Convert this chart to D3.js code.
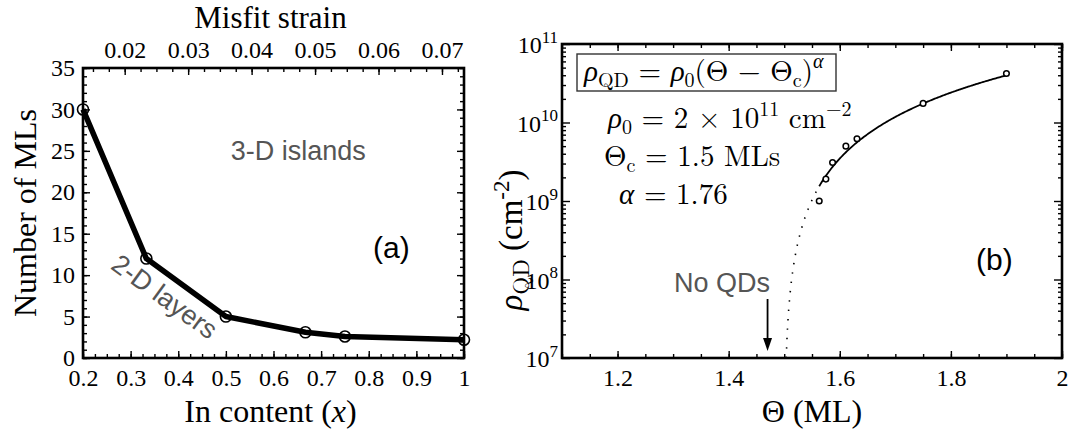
<!DOCTYPE html>
<html>
<head>
<meta charset="utf-8">
<script src="https://cdn.jsdelivr.net/npm/d3@7"></script>
<style>
  body { margin: 0; background: #fff; }
  svg { display: block; }
</style>
</head>
<body>
<svg id="fig" width="1074" height="435"></svg>
<script>
// ---- panel (a): critical thickness vs In content ----
const inContent    = [0.2, 0.333, 0.5, 0.667, 0.75, 1.0];
const criticalMLs  = [30, 12, 5, 3.1, 2.6, 2.2];
const inTicks      = [0.2, 0.3, 0.4, 0.5, 0.6, 0.7, 0.8, 0.9, 1.0];
const inTickLabels = ["0.2", "0.3", "0.4", "0.5", "0.6", "0.7", "0.8", "0.9", "1"];
const mlTicks      = [0, 5, 10, 15, 20, 25, 30, 35];
const strainTicks  = [0.02, 0.03, 0.04, 0.05, 0.06, 0.07];

// ---- panel (b): QD density vs coverage ----
const coverage     = [1.563, 1.575, 1.587, 1.611, 1.631, 1.75, 1.9];
const density      = [1.0e9, 1.9e9, 3.1e9, 5.0e9, 6.2e9, 1.75e10, 4.2e10];
const thetaTicks   = [1.2, 1.4, 1.6, 1.8, 2.0];
const thetaLabels  = ["1.2", "1.4", "1.6", "1.8", "2"];
const densityTicks = [1e7, 1e8, 1e9, 1e10, 1e11];
const densityExp   = ["7", "8", "9", "10", "11"];
// fit parameters of rho = rho0 (Theta - Theta_c)^alpha
const rho0 = 2e11, thetaC = 1.5, alpha = 1.76;
const noQDTheta = 1.47;

const SERIF = '"Liberation Serif", "Times New Roman", serif';
const MATH  = '"Latin Modern Roman", "Liberation Serif", serif';
const SANS  = '"Liberation Sans", Arial, sans-serif';

const svg = d3.select("#fig");

function tidy(g, size) {
  g.select(".domain").remove();
  g.selectAll("line").attr("stroke", "#000").attr("stroke-width", 1.4);
  g.attr("font-family", null).style("font-family", SERIF).attr("font-size", size || 24);
  g.selectAll("text").attr("fill", "#000").style("font-family", SERIF);
  return g;
}
const serifText = (sel) => sel.append("text").style("font-family", SERIF);
const mathText  = (sel) => sel.append("text").style("font-family", MATH);
const sansText  = (sel) => sel.append("text").style("font-family", SANS);

// ================= panel (a) =================
const A = { l: 83, r: 464, t: 68, b: 358 };
const xA = d3.scaleLinear([0.2, 1.0], [A.l, A.r]);
const yA = d3.scaleLinear([0, 35], [A.b, A.t]);
const sA = d3.scaleLinear([0.01343, 0.07347], [A.l, A.r]);

const gA = svg.append("g");
const inMinor = d3.range(0.2, 1.0001, 0.025);
const mlMinor = d3.range(0, 35.001, 1);
const strainMinor = d3.range(0.015, 0.0735, 0.0025);

// bottom
tidy(gA.append("g").attr("transform", `translate(0,${A.b})`)
  .call(d3.axisBottom(xA).tickValues(inMinor).tickFormat("").tickSize(-4)));
tidy(gA.append("g").attr("transform", `translate(0,${A.b})`)
  .call(d3.axisBottom(xA).tickValues(inTicks).tickFormat((d, i) => inTickLabels[i]).tickSize(-7).tickPadding(11)));
// top (misfit strain)
tidy(gA.append("g").attr("transform", `translate(0,${A.t})`)
  .call(d3.axisTop(sA).tickValues(strainMinor).tickFormat("").tickSize(-4)));
tidy(gA.append("g").attr("transform", `translate(0,${A.t})`)
  .call(d3.axisTop(sA).tickValues(strainTicks).tickFormat(d3.format(".2f")).tickSize(-7).tickPadding(10)));
// left
tidy(gA.append("g").attr("transform", `translate(${A.l},0)`)
  .call(d3.axisLeft(yA).tickValues(mlMinor).tickFormat("").tickSize(-4)));
tidy(gA.append("g").attr("transform", `translate(${A.l},0)`)
  .call(d3.axisLeft(yA).tickValues(mlTicks).tickSize(-7).tickPadding(8)));
// right
tidy(gA.append("g").attr("transform", `translate(${A.r},0)`)
  .call(d3.axisRight(yA).tickValues(mlMinor).tickFormat("").tickSize(-4)));
tidy(gA.append("g").attr("transform", `translate(${A.r},0)`)
  .call(d3.axisRight(yA).tickValues(mlTicks).tickFormat("").tickSize(-7)));

// region labels
sansText(gA).attr("x", xA(0.51)).attr("y", yA(23.9))
  .attr("font-size", 27).attr("fill", "#555")
  .text("3-D islands");
sansText(gA)
  .attr("transform", `translate(${xA(0.36)},${yA(6.5)}) rotate(36)`)
  .attr("text-anchor", "middle")
  .attr("font-size", 27).attr("fill", "#555")
  .text("2-D layers");
sansText(gA).attr("x", 373).attr("y", 258)
  .attr("font-size", 30).attr("fill", "#000")
  .text("(a)");

// data line + markers
const ptsA = inContent.map((x, i) => [x, criticalMLs[i]]);
gA.append("path").datum(ptsA)
  .attr("d", d3.line().x(d => xA(d[0])).y(d => yA(d[1])))
  .attr("fill", "none").attr("stroke", "#000").attr("stroke-width", 5.5)
  .attr("stroke-linejoin", "round");
gA.selectAll("circle.pt").data(ptsA).join("circle")
  .attr("cx", d => xA(d[0])).attr("cy", d => yA(d[1])).attr("r", 5.5)
  .attr("fill", "none").attr("stroke", "#000").attr("stroke-width", 1.6);

// frame
gA.append("rect").attr("x", A.l).attr("y", A.t).attr("width", A.r - A.l).attr("height", A.b - A.t)
  .attr("fill", "none").attr("stroke", "#000").attr("stroke-width", 2.6);

// axis titles
serifText(gA).attr("x", (A.l + A.r) / 2 - 3).attr("y", 28).attr("text-anchor", "middle")
  .attr("font-size", 31).text("Misfit strain");
const xtA = serifText(gA).attr("x", (A.l + A.r) / 2 - 3).attr("y", 422).attr("text-anchor", "middle")
  .attr("font-size", 32);
xtA.append("tspan").text("In content (");
xtA.append("tspan").attr("font-style", "italic").text("x");
xtA.append("tspan").text(")");
serifText(gA).attr("transform", `translate(36,${(A.t + A.b) / 2}) rotate(-90)`)
  .attr("text-anchor", "middle").attr("font-size", 32)
  .text("Number of MLs");

// ================= panel (b) =================
const B = { l: 562, r: 1062, t: 44, b: 358 };
const xB = d3.scaleLinear([1.1, 2.0], [B.l, B.r]);
const yB = d3.scaleLog([1e7, 1e11], [B.b, B.t]);
const gB = svg.append("g");

const thetaMinor = d3.range(1.1, 2.0001, 0.05);
const densityMinor = [];
for (let e = 7; e < 11; e++) for (let k = 2; k <= 9; k++) densityMinor.push(k * Math.pow(10, e));

tidy(gB.append("g").attr("transform", `translate(0,${B.b})`)
  .call(d3.axisBottom(xB).tickValues(thetaMinor).tickFormat("").tickSize(-4)));
tidy(gB.append("g").attr("transform", `translate(0,${B.b})`)
  .call(d3.axisBottom(xB).tickValues(thetaTicks).tickFormat((d, i) => thetaLabels[i]).tickSize(-7).tickPadding(11)));
tidy(gB.append("g").attr("transform", `translate(0,${B.t})`)
  .call(d3.axisTop(xB).tickValues(thetaMinor).tickFormat("").tickSize(-4)));
tidy(gB.append("g").attr("transform", `translate(0,${B.t})`)
  .call(d3.axisTop(xB).tickValues(thetaTicks).tickFormat("").tickSize(-7)));
tidy(gB.append("g").attr("transform", `translate(${B.l},0)`)
  .call(d3.axisLeft(yB).tickValues(densityMinor).tickFormat("").tickSize(-4)));
const yAxB = tidy(gB.append("g").attr("transform", `translate(${B.l},0)`)
  .call(d3.axisLeft(yB).tickValues(densityTicks).tickFormat("").tickSize(-8).tickPadding(4)));
tidy(gB.append("g").attr("transform", `translate(${B.r},0)`)
  .call(d3.axisRight(yB).tickValues(densityMinor).tickFormat("").tickSize(-4)));
tidy(gB.append("g").attr("transform", `translate(${B.r},0)`)
  .call(d3.axisRight(yB).tickValues(densityTicks).tickFormat("").tickSize(-8)));

// power-of-ten tick labels
yAxB.selectAll(".tick text").each(function (d, i) {
  const t = d3.select(this).text(null).attr("dy", "0.36em");
  t.append("tspan").text("10");
  t.append("tspan").attr("font-size", 17).attr("dy", "-0.62em").text(densityExp[i]);
});

// fitted model curve: dotted near the onset, solid over the measured range
const model = th => rho0 * Math.pow(th - thetaC, alpha);
const onset = thetaC + Math.pow(1e7 / rho0, 1 / alpha);
const splitTheta = coverage[0];
const lineB = d3.line().x(d => xB(d)).y(d => yB(model(d)));
const dotted = d3.range(onset, splitTheta, 0.0005).concat([splitTheta]);
const solid = d3.range(splitTheta, coverage[coverage.length - 1], 0.002).concat([coverage[coverage.length - 1]]);
gB.append("path").datum(dotted).attr("d", lineB)
  .attr("fill", "none").attr("stroke", "#000").attr("stroke-width", 1.6)
  .attr("stroke-dasharray", "1.4 8");
gB.append("path").datum(solid).attr("d", lineB)
  .attr("fill", "none").attr("stroke", "#000").attr("stroke-width", 1.8);

// measured densities
gB.selectAll("circle.pt").data(coverage.map((c, i) => [c, density[i]])).join("circle")
  .attr("cx", d => xB(d[0])).attr("cy", d => yB(d[1])).attr("r", 2.8)
  .attr("fill", "#fff").attr("stroke", "#000").attr("stroke-width", 1.5);

// "No QDs" annotation and arrow
sansText(gB).attr("x", 674).attr("y", 292)
  .attr("font-size", 27).attr("fill", "#555").text("No QDs");
const ax = xB(noQDTheta);
gB.append("line").attr("x1", ax).attr("x2", ax).attr("y1", 299).attr("y2", 340)
  .attr("stroke", "#000").attr("stroke-width", 1.8);
gB.append("path").attr("d", `M${ax - 4.5},${338} L${ax + 4.5},${338} L${ax},${351} Z`).attr("fill", "#000");

sansText(gB).attr("x", 976).attr("y", 270)
  .attr("font-size", 30).attr("fill", "#000").text("(b)");

// formula box
gB.append("rect").attr("x", 577).attr("y", 54).attr("width", 259).attr("height", 37)
  .attr("fill", "#fff").attr("stroke", "#333").attr("stroke-width", 1.4);
const f1 = mathText(gB).attr("x", 584).attr("y", 81).attr("font-size", 29);
f1.append("tspan").attr("font-style", "italic").text("ρ");
f1.append("tspan").attr("font-size", 20).attr("dy", 6).text("QD");
f1.append("tspan").attr("dy", -6).text(" = ");
f1.append("tspan").attr("font-style", "italic").text("ρ");
f1.append("tspan").attr("font-size", 20).attr("dy", 6).text("0");
f1.append("tspan").attr("dy", -6).text("(Θ − Θ");
f1.append("tspan").attr("font-size", 20).attr("dy", 6).text("c");
f1.append("tspan").attr("dy", -6).text(")");
f1.append("tspan").attr("font-size", 20).attr("font-style", "italic").attr("dy", -13).text("α");

const p1 = mathText(gB).attr("x", 608).attr("y", 128).attr("font-size", 29);
p1.append("tspan").attr("font-style", "italic").text("ρ");
p1.append("tspan").attr("font-size", 20).attr("dy", 6).text("0");
p1.append("tspan").attr("dy", -6).text(" = 2 × 10");
p1.append("tspan").attr("font-size", 20).attr("dy", -12).text("11");
p1.append("tspan").attr("dy", 12).text(" cm");
p1.append("tspan").attr("font-size", 20).attr("dy", -12).text("−2");

const p2 = mathText(gB).attr("x", 604).attr("y", 166).attr("font-size", 29);
p2.append("tspan").text("Θ");
p2.append("tspan").attr("font-size", 20).attr("dy", 6).text("c");
p2.append("tspan").attr("dy", -6).text(" = 1.5 MLs");

const p3 = mathText(gB).attr("x", 619).attr("y", 204).attr("font-size", 29);
p3.append("tspan").attr("font-style", "italic").text("α");
p3.append("tspan").text(" = 1.76");

// frame
gB.append("rect").attr("x", B.l).attr("y", B.t).attr("width", B.r - B.l).attr("height", B.b - B.t)
  .attr("fill", "none").attr("stroke", "#000").attr("stroke-width", 2.6);

// axis titles
serifText(gB).attr("x", (B.l + B.r) / 2).attr("y", 422).attr("text-anchor", "middle")
  .attr("font-size", 32).text("Θ  (ML)");
const ytB = serifText(gB).attr("transform", `translate(522,240) rotate(-90)`)
  .attr("text-anchor", "middle").attr("font-size", 33);
ytB.append("tspan").attr("font-style", "italic").text("ρ");
ytB.append("tspan").style("font-family", MATH).attr("font-size", 23).attr("dy", 7).text("QD");
ytB.append("tspan").attr("dy", -7).text("  (cm");
ytB.append("tspan").attr("font-size", 23).attr("dy", -13).text("-2");
ytB.append("tspan").attr("dy", 13).text(")");
</script>
</body>
</html>
